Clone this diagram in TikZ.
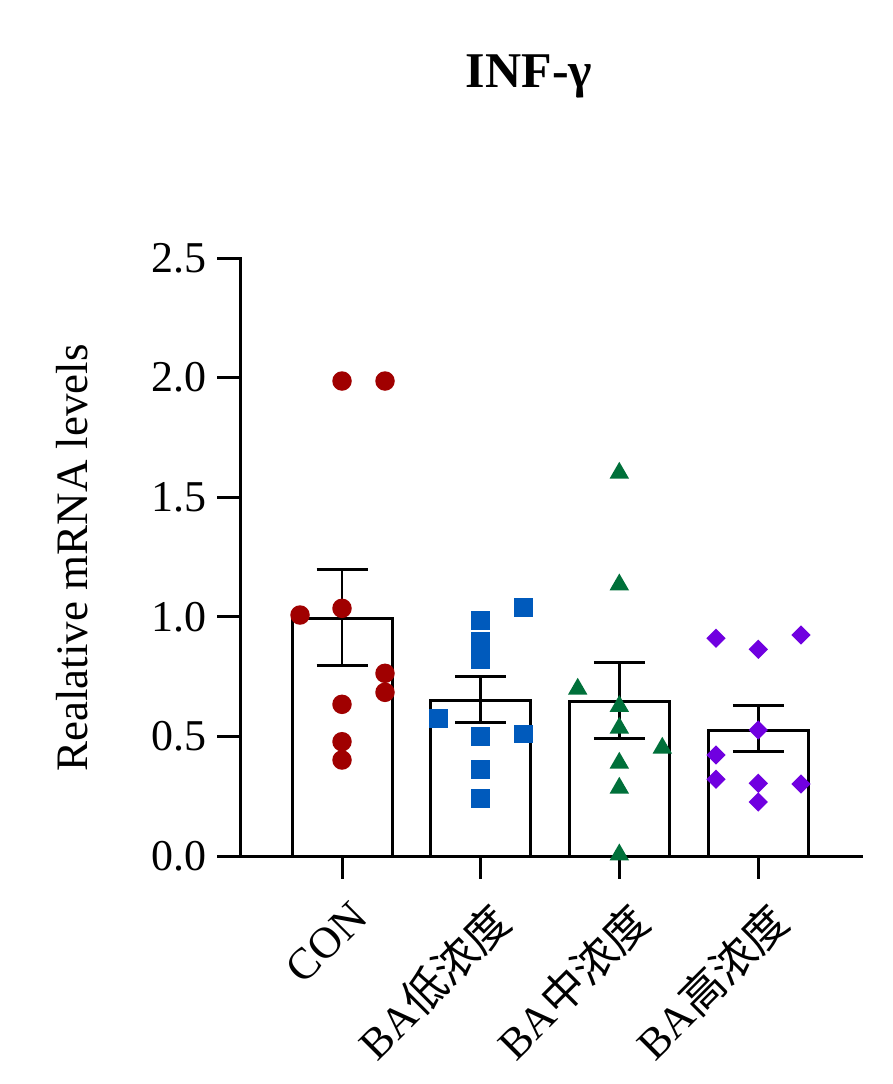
\documentclass[tikz,border=0pt]{standalone}
\usepackage{fontspec}
\setmainfont{Liberation Serif}
\newfontfamily\cjk{Noto Sans CJK SC}
\usetikzlibrary{shapes.geometric}
\definecolor{cred}{RGB}{160,0,0}
\definecolor{cblue}{RGB}{0,90,188}
\definecolor{cgreen}{RGB}{0,112,58}
\definecolor{cpurple}{RGB}{112,0,224}
\begin{document}
\begin{tikzpicture}[x=1pt,y=-1pt,
  axisline/.style={line width=3pt,black},
  barbox/.style={line width=3pt,black,fill=white},
  errline/.style={line width=2.6pt,black},
  ticklab/.style={anchor=east,inner sep=0pt,font=\fontsize{44}{50}\selectfont},
  xlab/.style={anchor=north east,inner sep=0pt,rotate=45,font=\fontsize{44}{50}\selectfont},
  redpt/.style={circle,fill=cred,draw=none,minimum size=19.5pt,inner sep=0pt},
  bluept/.style={rectangle,fill=cblue,draw=none,minimum size=18.5pt,inner sep=0pt},
  greenpt/.style={regular polygon,regular polygon sides=3,fill=cgreen,draw=none,minimum size=22.5pt,inner sep=0pt},
  purplept/.style={diamond,fill=cpurple,draw=none,minimum width=19.5pt,minimum height=19.5pt,inner sep=0pt}
]
\useasboundingbox (0,0) rectangle (893,1084);
% title
\node[anchor=base,inner sep=0pt,font=\fontsize{50}{56}\selectfont\bfseries] (title) at (529,87) {INF-γ};
% y label
\node[anchor=base,rotate=90,inner sep=0pt,font=\fontsize{45}{50}\selectfont] (ylab) at (87,558) {Realative mRNA levels};
% axes
\coordinate (ytop) at (240,258);
\coordinate (yorig) at (240,856);
\coordinate (xend) at (863,856);
\draw[axisline] (217,258) -- (ytop) -- (yorig);
\draw[axisline] (217,856) -- (xend);
\foreach \v/\y in {0.0/856,0.5/736.4,1.0/616.8,1.5/497.2,2.0/377.6} {
  \draw[axisline] (217,\y) -- (240,\y);
}
\foreach \v/\y [count=\i] in {0.0/856,0.5/736.4,1.0/616.8,1.5/497.2,2.0/377.6,2.5/258} {
  \node[ticklab] (yt\i) at (207,\y) {\v};
}
% bars
\draw[barbox] (292,856) rectangle (392,618.3);
\draw[barbox] (430.5,856) rectangle (530,700);
\draw[barbox] (569.5,856) rectangle (669,701.3);
\draw[barbox] (708.3,856) rectangle (808,730.3);
% x ticks and labels
\foreach \x/\t [count=\i] in {342/CON,480.7/BA{\cjk 低浓度},619.3/BA{\cjk 中浓度},758.3/BA{\cjk 高浓度}} {
  \draw[axisline] (\x,856) -- (\x,879);
  \node[xlab] (xl\i) at (\x+7,899) {\t};
}
% error bars
\foreach \x/\a/\b in {342/569.3/665.3,480.7/676/722,619.3/662.7/738.3,758.3/705.7/751.7} {
  \draw[errline] (\x,\a) -- (\x,\b);
  \draw[axisline] (\x-25.5,\a) -- (\x+25.5,\a);
  \draw[axisline] (\x-25.5,\b) -- (\x+25.5,\b);
}
% CON points
\foreach \x/\y [count=\i] in {342/381,385/381,300/615,342/608.3,385/673.3,385/692.3,342/704.3,342/741.7,342/760} {
  \node[redpt] (r\i) at (\x,\y) {};
}
% BA low points
\foreach \x/\y [count=\i] in {523.3/607.3,480.7/620.7,480.7/641.7,480.7/660,438.3/718.3,480.7/736.7,523.3/734,480.7/769.3,480.7/798.3} {
  \node[bluept] (b\i) at (\x,\y) {};
}
% BA mid points
\foreach \x/\y [count=\i] in {619.3/473,619.3/584.7,577.7/689,619.3/706.3,619.3/728,662.3/748,619.3/763,619.3/788,619.3/854.7} {
  \node[greenpt] (g\i) at (\x,\y) {};
}
% BA high points
\foreach \x/\y [count=\i] in {716/638.3,758.3/649.3,801/635,758.3/730,716/755,716/779.3,758.3/783.3,801/784,758.3/802} {
  \node[purplept] (p\i) at (\x,\y) {};
}
\end{tikzpicture}
\end{document}
